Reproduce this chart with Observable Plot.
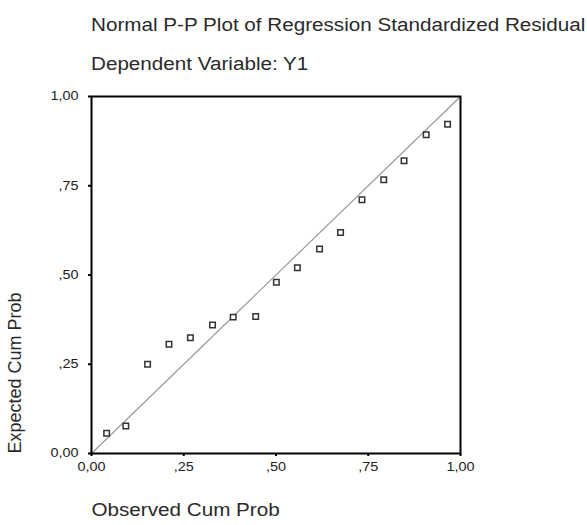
<!DOCTYPE html>
<html><head><meta charset="utf-8">
<script src="https://cdn.jsdelivr.net/npm/d3@7"></script>
<script src="https://cdn.jsdelivr.net/npm/@observablehq/plot@0.6"></script>
<style>
body{margin:0;background:#fff;font-family:"Liberation Sans",Arial,sans-serif;}
#head{position:relative;height:85px;width:587px;}
#title,#subtitle{position:absolute;left:91px;font-size:18px;line-height:21px;color:#2a2a2a;white-space:nowrap;transform:scaleX(1.147);transform-origin:0 0;}
#title{top:15px;}
#subtitle{top:54px;}
</style></head><body>
<div id="head"><div id="title">Normal P-P Plot of Regression Standardized Residual</div><div id="subtitle">Dependent Variable: Y1</div></div>
<div id="chart"></div>
<script>
const observed = [0.041, 0.093, 0.152, 0.210, 0.268, 0.328, 0.384, 0.445, 0.501, 0.558, 0.618, 0.675, 0.733, 0.792, 0.847, 0.907, 0.965];
const expected = [0.057, 0.077, 0.250, 0.306, 0.324, 0.360, 0.382, 0.384, 0.480, 0.520, 0.573, 0.619, 0.711, 0.767, 0.820, 0.893, 0.922];
const diagonal = [0, 1];
const ticks = [0, 0.25, 0.5, 0.75, 1];
const tickLabels = ["0,00", ",25", ",50", ",75", "1,00"];
const xLabel = "Observed Cum Prob";
const yLabel = "Expected Cum Prob";

const points = observed.map((x, i) => ({x, y: expected[i]}));
const fmt = d => tickLabels[ticks.indexOf(d)];

const chart = Plot.plot({
  width: 587, height: 440,
  marginLeft: 91, marginRight: 127, marginTop: 11, marginBottom: 72,
  style: {fontFamily: "'Liberation Sans', Arial, sans-serif", fontSize: "12px", color: "#222", background: "#fff"},
  x: {domain: [0, 1]},
  y: {domain: [0, 1]},
  marks: [
    Plot.line(diagonal, {x: d => d, y: d => d, stroke: "#9a9a9a", strokeWidth: 1.2}),
    Plot.dot(points, {x: "x", y: "y", symbol: "square", r: 3.1, stroke: "#333", strokeWidth: 1.5, fill: "white"}),
    Plot.frame({stroke: "#000", strokeWidth: 2}),
    Plot.axisX({ticks, tickFormat: fmt, tickSize: 3, tickPadding: 6, label: null, strokeWidth: 2, stroke: "#000", className: "stretch12"}),
    Plot.axisY({ticks, tickFormat: fmt, tickSize: 3, tickPadding: 10, label: null, strokeWidth: 2, stroke: "#000", className: "stretch12"}),
    Plot.text([xLabel], {frameAnchor: "bottom-left", text: d => d, textAnchor: "start", dy: 62.6, fontSize: 18, fill: "#2a2a2a", className: "stretchx"}),
    Plot.text([yLabel], {frameAnchor: "bottom-left", text: d => d, rotate: -90, textAnchor: "start", dx: -70.5, dy: 0, fontSize: 18, fill: "#2a2a2a"})
  ]
});
document.getElementById("chart").appendChild(chart);
// horizontal stretch of label glyphs, as in the reference
d3.select(chart).selectAll(".stretch12 text, .stretchx text").each(function() {
  const len = this.getComputedTextLength();
  const k = this.closest(".stretchx") ? 1.147 : 1.2;
  this.setAttribute("textLength", (len * k).toFixed(2));
  this.setAttribute("lengthAdjust", "spacingAndGlyphs");
});
</script>
</body></html>
